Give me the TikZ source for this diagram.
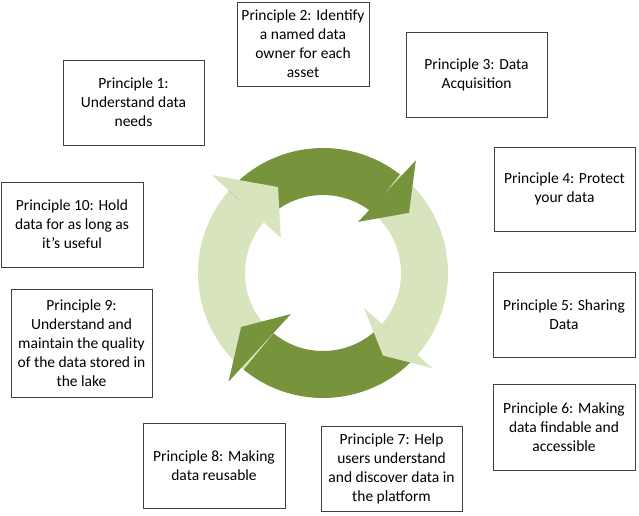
\documentclass[tikz,border=0pt]{standalone}
\usepackage{fontspec}
\setmainfont{Carlito}
\usetikzlibrary{calc}
\definecolor{cycdark}{HTML}{77933C}
\definecolor{cyclight}{HTML}{D7E4BD}
\definecolor{boxline}{HTML}{404040}
\tikzset{
  pbox/.style={draw=boxline, line width=0.9pt, fill=white, rectangle,
    align=center, inner sep=0pt, font=\fontsize{15.5}{19}\selectfont},
}
% annular band from angle #2 down to angle #3 (clockwise)
\newcommand{\cycband}[3]{%
  \fill[#1] ($(C)+(#2:125)$) arc[start angle=#2, end angle=#3, radius=125]
    -- ($(C)+(#3:78)$) arc[start angle=#3, end angle=#2, radius=78] -- cycle;}
% arrow head: outer barb (angle #2, radius #3), tip (#4, #5), inner barb (#6, #7)
\newcommand{\cychead}[7]{%
  \fill[#1] ($(C)+(#2:#3)$) -- ($(C)+(#4:#5)$) -- ($(C)+(#6:#7)$) -- cycle;}
\begin{document}
\begin{tikzpicture}[x=1pt,y=1pt]
\useasboundingbox (0,0) rectangle (639,-515);
\coordinate (C) at (323,-273);

% bodies of the four circular arrows
\cycband{cycdark}{139}{52}
\cycband{cyclight}{52}{-41}
\cycband{cycdark}{-41}{-129.5}
\cycband{cyclight}{230.5}{139}
% heads on top
\cychead{cycdark}{50.5}{146}{35}{105}{55.5}{62}
\cychead{cyclight}{-41}{145}{-54}{102}{-40.5}{54}
\cychead{cycdark}{229}{144}{213.4}{98}{232}{52}
\cychead{cyclight}{138.6}{148}{117.6}{97}{140.2}{55}

% principle boxes
\node[pbox, minimum width=141pt, minimum height=85pt] (p1) at (133.5,-102.5)
  {Principle 1:\\Understand data\\needs};
\node[pbox, minimum width=132pt, minimum height=84pt] (p2) at (303,-44)
  {Principle 2: Identify\\a named data\\owner for each\\asset};
\node[pbox, minimum width=141pt, minimum height=85pt] (p3) at (476.5,-74.5)
  {Principle 3: Data\\Acquisition};
\node[pbox, minimum width=141pt, minimum height=84pt] (p4) at (564.5,-189)
  {Principle 4: Protect\\your data};
\node[pbox, minimum width=142pt, minimum height=85pt] (p5) at (564,-314.5)
  {Principle 5: Sharing\\Data};
\node[pbox, minimum width=142pt, minimum height=86pt] (p6) at (564,-427)
  {Principle 6: Making\\data findable and\\accessible};
\node[pbox, minimum width=141pt, minimum height=85pt] (p7) at (391.5,-468.5)
  {Principle 7: Help\\users understand\\and discover data in\\the platform};
\node[pbox, minimum width=142pt, minimum height=85pt] (p8) at (214,-465.5)
  {Principle 8: Making\\data reusable};
\node[pbox, minimum width=141pt, minimum height=108pt] (p9) at (81.5,-343)
  {Principle 9:\\Understand and\\maintain the quality\\of the data stored in\\the lake};
\node[pbox, minimum width=142pt, minimum height=85pt] (p10) at (72,-224.5)
  {Principle 10: Hold\\data for as long as\\it’s useful};
\end{tikzpicture}
\end{document}
